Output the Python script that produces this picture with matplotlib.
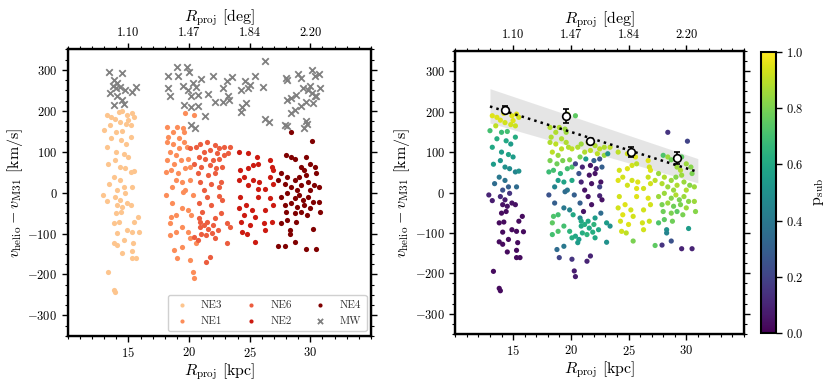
import numpy as np
import matplotlib
matplotlib.use('Agg')
import matplotlib.pyplot as plt
from matplotlib.ticker import MultipleLocator

plt.rcParams['font.family'] = 'serif'
plt.rcParams['font.serif'] = ['cmr10']
plt.rcParams['mathtext.fontset'] = 'cm'
plt.rcParams['axes.formatter.use_mathtext'] = True

# (R_proj [kpc], v [km/s], p_sub) per field
ne3 = [(13.2,190,0.95),(13.6,186,0.95),(14.2,196,0.95),(14.5,200,0.95),(14.9,190,0.95),(15.3,194,0.95),
       (15.5,186,0.93),(15.0,178,0.95),(14.3,173,0.93),(13.9,179,0.95),(13.5,165,0.9),(14.8,168,0.93),
       (15.2,165,0.92),(13.0,153,0.7),(14.0,149,0.68),(14.5,151,0.7),(15.2,137,0.62),(14.8,120,0.55),
       (14.4,128,0.6),(13.6,133,0.62),(13.2,112,0.6),(14.0,100,0.55),(14.6,94,0.58),(15.0,88,0.55),
       (13.9,79,0.52),(13.3,70,0.55),(14.3,63,0.5),(14.7,59,0.48),(15.2,51,0.45),(15.5,53,0.5),
       (13.8,38,0.4),(14.3,30,0.38),(13.4,22,0.35),(14.6,14,0.3),(15.3,14,0.35),(14.1,6,0.25),
       (12.9,-6,0.1),(13.2,-20,0.08),(13.9,-10,0.12),(14.3,-18,0.08),(14.7,-2,0.15),(14.9,-26,0.05),
       (14.1,-30,0.05),(14.5,-34,0.05),(15.2,-30,0.05),(14.0,-51,0.03),(14.4,-47,0.03),(13.8,-75,0.03),
       (14.2,-73,0.03),(15.5,-71,0.03),(15.8,-59,0.03),(14.9,-92,0.03),(15.3,-96,0.03),(14.1,-98,0.03),
       (15.9,-97,0.03),(13.8,-122,0.03),(14.1,-128,0.03),(14.6,-116,0.03),(15.4,-124,0.03),(14.5,-147,0.03),
       (15.3,-143,0.03),(15.3,-161,0.03),(15.6,-161,0.03),(13.3,-195,0.03),(13.8,-237,0.03),(13.9,-243,0.03)]

ne1 = [(19.7,194,0.88),(20.4,190,0.75),(18.2,161,0.88),(19.0,161,0.88),(19.5,157,0.85),(18.7,149,0.88),
       (19.6,149,0.85),(18.3,137,0.88),(19.2,133,0.88),(18.2,124,0.88),(18.7,120,0.9),(19.6,124,0.88),
       (19.2,108,0.9),(19.8,112,0.88),(18.4,100,0.9),(18.9,92,0.85),(18.2,79,0.8),(18.8,71,0.78),
       (19.3,79,0.8),(19.9,81,0.82),(18.5,55,0.7),(18.1,51,0.68),(19.1,47,0.65),(19.7,59,0.7),
       (20.1,63,0.72),(18.9,30,0.55),(19.4,26,0.58),(20.1,30,0.6),(18.6,14,0.45),(19.7,6,0.4),
       (18.1,-6,0.25),(18.6,-26,0.3),(19.5,2,0.35),(20.3,-6,0.3),(19.4,-38,0.4),(19.9,-43,0.45),
       (18.5,-59,0.72),(18.9,-55,0.7),(20.2,-55,0.6),(18.4,-75,0.75),(18.9,-96,0.72),(19.4,-83,0.7),
       (19.9,-96,0.65),(20.1,-112,0.62),(18.4,-104,0.7),(18.8,-141,0.35),(19.4,-133,0.4),(19.0,-161,0.2),
       (20.1,-165,0.15),(20.3,-194,0.08),(20.4,-208,0.08),(20.6,-124,0.55)]

ne6 = [(20.1,108,0.9),(20.6,112,0.88),(20.9,120,0.85),(21.5,124,0.9),(22.1,116,0.88),(22.5,108,0.9),
       (22.9,112,0.88),(23.4,112,0.9),(21.2,100,0.88),(21.7,104,0.9),(22.3,96,0.9),(22.9,92,0.85),
       (20.8,88,0.8),(21.3,83,0.55),(22.0,79,0.3),(22.5,83,0.25),(23.2,96,0.5),(20.4,71,0.2),
       (21.0,63,0.1),(21.7,67,0.05),(22.2,59,0.08),(22.7,63,0.3),(20.7,47,0.25),(21.6,43,0.05),
       (22.1,47,0.05),(20.9,26,0.1),(21.8,22,0.05),(22.6,26,0.05),(21.2,6,0.05),(22.5,14,0.2),
       (21.5,-10,0.05),(22.5,-8,0.1),(22.7,-18,0.05),(20.8,-26,0.3),(21.8,-30,0.05),(21.1,-47,0.05),
       (22.6,-51,0.35),(20.8,-63,0.45),(21.5,-71,0.6),(22.1,-63,0.55),(23.1,-75,0.55),(23.4,-83,0.5),
       (20.9,-83,0.6),(21.2,-79,0.62),(21.6,-88,0.6),(22.0,-79,0.65),(22.4,-92,0.6),(21.0,-100,0.62),
       (21.4,-104,0.65),(21.9,-98,0.62),(20.4,-108,0.6),(20.7,-116,0.55),(22.1,-112,0.6),(23.1,-123,0.5),
       (21.7,-157,0.1),(21.4,-170,0.1),(20.9,-71,0.6)]

ne2 = [(24.1,100,0.9),(24.9,96,0.93),(25.6,88,0.95),(24.2,55,0.93),(24.9,59,0.95),(25.3,67,0.93),
       (25.7,71,0.9),(26.7,79,0.95),(26.8,63,0.93),(26.9,55,0.95),(24.5,38,0.93),(24.1,30,0.95),
       (25.3,30,0.93),(25.8,26,0.95),(26.7,38,0.92),(24.9,18,0.93),(25.7,10,0.95),(26.3,10,0.93),
       (26.9,22,0.93),(24.1,-38,0.93),(24.7,-30,0.95),(25.2,-43,0.93),(24.5,-55,0.95),(25.4,-59,0.93),
       (24.3,-71,0.93),(25.0,-79,0.95),(26.3,-43,0.93),(26.7,-14,0.95),(26.9,-30,0.93),(26.2,-75,0.93),
       (26.8,-71,0.92),(24.4,-96,0.93),(24.8,-100,0.9),(25.4,-120,0.8),(26.3,-92,0.93),(25.7,-10,0.95),
       (24.2,-10,0.93)]

ne4 = [(28.4,149,0.15),(30.1,127,0.2),(28.0,92,0.72),(28.4,88,0.85),(28.7,81,0.78),(29.6,88,0.75),
       (30.0,71,0.85),(30.4,63,0.82),(29.2,63,0.85),(29.5,55,0.88),(27.6,47,0.85),(28.1,38,0.88),
       (28.7,30,0.85),(29.1,38,0.82),(29.6,43,0.85),(30.5,47,0.8),(27.9,22,0.88),(28.4,14,0.85),
       (29.2,18,0.88),(29.8,26,0.85),(30.3,18,0.82),(30.7,14,0.85),(28.9,6,0.85),(30.0,6,0.88),
       (27.3,30,0.9),(27.6,-10,0.85),(28.1,-2,0.85),(28.7,-14,0.82),(29.1,-6,0.88),(29.4,-18,0.8),
       (29.8,-10,0.85),(30.2,-22,0.82),(30.7,-22,0.85),(27.9,-30,0.8),(28.4,-26,0.85),(28.9,-34,0.78),
       (29.5,-30,0.8),(30.0,-38,0.85),(28.0,-47,0.78),(28.7,-51,0.8),(29.2,-47,0.75),(29.7,-55,0.8),
       (30.8,-47,0.82),(28.1,-67,0.75),(28.8,-71,0.78),(27.6,-75,0.72),(28.3,-92,0.5),(28.3,-100,0.45),
       (30.2,-89,0.55),(27.9,-130,0.15),(28.7,-120,0.25),(29.6,-139,0.1),(30.5,-139,0.1),(27.3,-131,0.75)]

mw = [(13.4,294),(14.5,292),(13.8,276),(14.1,268),(13.7,260),(14.0,255),(14.3,258),(14.7,251),(15.6,258),
      (15.3,247),(13.5,243),(14.1,235),(14.5,227),(13.8,214),(14.6,217),
      (18.3,255),(18.4,235),(19.0,308),(19.8,308),(18.3,286),(19.1,286),(20.0,294),(19.5,261),(20.3,268),
      (19.9,251),(20.6,258),(21.0,277),(20.7,239),(20.2,235),(19.6,214),(20.2,210),(20.7,212),(21.3,187),
      (20.2,165),(20.5,157),(22.0,284),(21.6,240),(22.1,221),(22.8,255),(23.1,272),(23.5,282),(23.2,235),
      (22.8,222),(23.3,226),
      (24.3,251),(24.9,255),(24.6,272),(25.0,263),(25.4,286),(24.4,210),(24.7,219),(24.3,198),(26.1,259),
      (26.3,321),(26.3,179),(26.6,173),
      (28.0,280),(28.1,276),(29.0,291),(29.2,280),(28.1,227),(28.4,231),(28.8,239),(28.4,194),(27.9,165),
      (28.1,163),(28.7,203),(29.2,212),(29.6,222),(30.2,218),(29.4,255),(29.8,251),(30.0,261),(30.1,299),
      (30.4,284),(30.7,291),(30.8,255),(30.5,237),(29.6,176),(29.7,168),(29.5,157),(30.1,243),(30.4,235)]

fields = ['NE3', 'NE1', 'NE6', 'NE2', 'NE4']
field_data = [ne3, ne1, ne6, ne2, ne4]
field_colors = ['#fdc58e', '#fc8d59', '#ec5d3e', '#cc1a10', '#800000']

# binned means and linear fit
bin_r = [14.3, 19.55, 21.7, 25.2, 29.2]
bin_v = [205, 189, 128, 101, 86]
bin_err = [8, 18, 5, 12, 15]
fit_r = [13.0, 31.0]
fit_v = [213, 51]
band_lo = [172, 24]
band_hi = [257, 84]

top_ticks = [15, 20, 25, 30]
top_labels = ['1.10', '1.47', '1.84', '2.20']


def style_axes(ax):
  ax.set_xlim(10, 35)
  ax.set_ylim(-350, 350)
  ax.set_xticks([15, 20, 25, 30])
  ax.set_yticks([-300, -200, -100, 0, 100, 200, 300])
  ax.xaxis.set_minor_locator(MultipleLocator(1))
  ax.yaxis.set_minor_locator(MultipleLocator(25))
  ax.tick_params(which='both', direction='out', right=True, labelsize=9, width=1.0)
  ax.tick_params(which='major', length=4.5, pad=3)
  ax.tick_params(which='minor', length=2.3, width=0.8)
  for s in ax.spines.values():
    s.set_linewidth(1.7)
  ax.set_xlabel(r'$R_{\rm proj}$ [kpc]', fontsize=11.5, labelpad=1)
  ax.set_ylabel(r'$v_{\rm helio} - v_{\rm M31}$ [km/s]', fontsize=11.5, labelpad=2)
  top = ax.twiny()
  top.set_xlim(10, 35)
  top.set_xticks(top_ticks)
  top.set_xticklabels(top_labels)
  top.xaxis.set_minor_locator(MultipleLocator(1))
  top.tick_params(which='both', direction='out', labelsize=9, width=1.0)
  top.tick_params(which='major', length=4.5, pad=3)
  top.tick_params(which='minor', length=2.3, width=0.8)
  top.set_xlabel(r'$R_{\rm proj}$ [deg]', fontsize=11.5, labelpad=4)
  return top


fig = plt.figure(figsize=(8.3, 3.86), dpi=100)

# left panel: fields
ax1 = fig.add_axes([0.0816, 0.130, 0.3654, 0.742])
for name, data, c in zip(fields, field_data, field_colors):
  r = [d[0] for d in data]
  v = [d[1] for d in data]
  ax1.scatter(r, v, s=14, color=c, label=name, linewidths=0, zorder=2)
ax1.scatter([d[0] for d in mw], [d[1] for d in mw], marker='x', s=22, color='gray',
            linewidths=1.3, label='MW', zorder=2)
style_axes(ax1)
leg = ax1.legend(loc='lower right', ncol=3, fontsize=8, markerscale=0.8, handlelength=1.5,
                 handletextpad=1.0, columnspacing=1.8, borderpad=0.5, labelspacing=0.55,
                 framealpha=1, edgecolor='#d0d0d0', fancybox=True, borderaxespad=0.4)
for t in leg.get_texts():
  t.set_color('#333333')

# right panel: p_sub
ax2 = fig.add_axes([0.5486, 0.1347, 0.3478, 0.733])
all_r = [d[0] for data in field_data for d in data]
all_v = [d[1] for data in field_data for d in data]
all_p = [d[2] for data in field_data for d in data]
ax2.fill_between(fit_r, band_lo, band_hi, color='#e3e3e3', alpha=0.9, lw=0, zorder=1)
sc = ax2.scatter(all_r, all_v, c=all_p, cmap='viridis', vmin=0, vmax=1, s=14, linewidths=0, zorder=2)
ax2.plot(fit_r, fit_v, color='black', ls=':', lw=1.8, zorder=3)
ax2.errorbar(bin_r, bin_v, yerr=bin_err, fmt='o', ms=5.5, mfc='white', mec='black', mew=1.2,
             ecolor='black', elinewidth=1.2, capsize=2.5, capthick=1.2, zorder=4)
style_axes(ax2)

cax = fig.add_axes([0.9169, 0.1365, 0.0177, 0.7295])
cb = fig.colorbar(sc, cax=cax)
cb.set_ticks([0.0, 0.2, 0.4, 0.6, 0.8, 1.0])
cb.ax.tick_params(labelsize=9, direction='out', length=4, width=1.0)
cb.outline.set_linewidth(1.5)
cb.set_label(r'$\rm p_{sub}$', fontsize=11.5, labelpad=6)

fig.savefig('out.png', dpi=100)
